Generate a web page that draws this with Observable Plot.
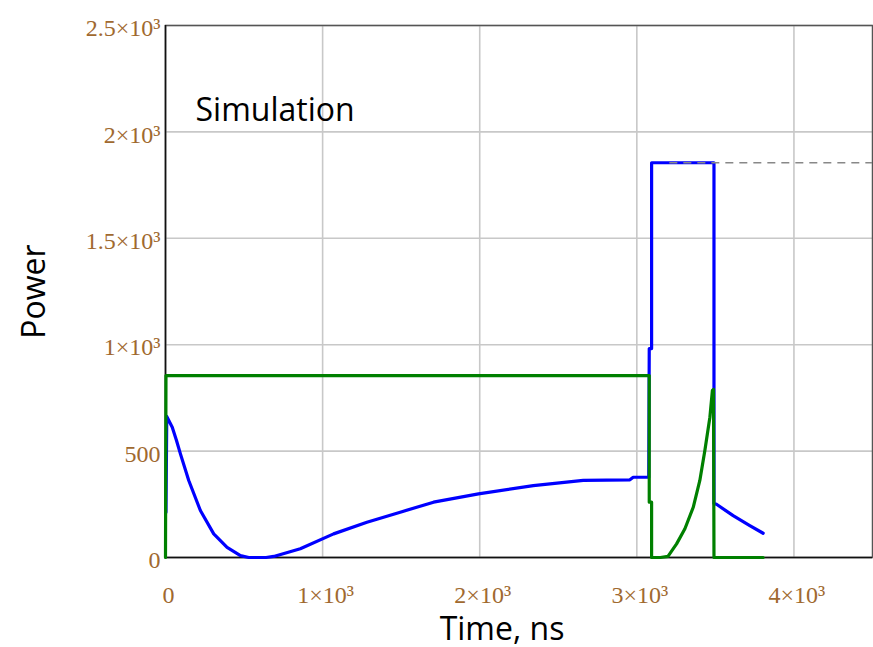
<!DOCTYPE html>
<html>
<head>
<meta charset="utf-8">
<script src="https://cdn.jsdelivr.net/npm/d3@7"></script>
<script src="https://cdn.jsdelivr.net/npm/@observablehq/plot@0.6"></script>
<style>
  html, body { margin: 0; padding: 0; background: #fff; }
  #chart { width: 873px; height: 647px; }
</style>
</head>
<body>
<div id="chart"></div>
<script>
// ---- data ----
const blueTime  = [3, 8, 43, 70, 95, 148, 222, 307, 392, 477, 530, 640, 689, 858, 1070, 1282, 1494, 1706, 1992, 2341, 2659, 2956, 2977, 3076, 3079, 3094, 3094, 3491, 3491, 3507, 3613, 3719, 3804];
const bluePower = [213, 663, 612, 550, 487, 362, 221, 111, 48, 9, 0, 0, 5, 41, 111, 166, 213, 260, 299, 338, 362, 365, 377, 377, 982, 982, 1855, 1855, 254, 250, 197, 150, 114];

const greenTime  = [0, 3, 3079, 3079, 3094, 3094, 3150, 3198, 3253, 3306, 3359, 3401, 3433, 3465, 3481, 3488, 3491, 3804];
const greenPower = [0, 855, 855, 260, 260, 0, 0, 5, 64, 135, 236, 362, 503, 659, 785, 790, 0, 0];

const markerLevel = [1855];
const markerStart = 3210;

const xTicks = [0, 1000, 2000, 3000, 4000];
const xTickLabels = ["0", "1×10³", "2×10³", "3×10³", "4×10³"];
const yTicks = [0, 500, 1000, 1500, 2000, 2500];
const yTickLabels = ["0", "500", "1×10³", "1.5×10³", "2×10³", "2.5×10³"];

const xLabel = "Time, ns";
const yLabel = "Power";
const annotation = "Simulation";

// ---- build tables ----
const blue = blueTime.map((t, i) => ({t, p: bluePower[i]}));
const green = greenTime.map((t, i) => ({t, p: greenPower[i]}));

const tickColor = "#a0692f";
const serif = "'Liberation Serif', 'Times New Roman', serif";
const sans = "'Open Sans', 'Noto Sans', sans-serif";

const chart = Plot.plot({
  width: 873,
  height: 647,
  marginLeft: 165,
  marginRight: 1,
  marginTop: 25,
  marginBottom: 90,
  style: {background: "white", overflow: "visible"},
  x: {domain: [0, 4500]},
  y: {domain: [0, 2500]},
  marks: [
    Plot.gridX(xTicks, {stroke: "#c8c8c8", strokeOpacity: 1, strokeWidth: 1.6}),
    Plot.gridY(yTicks, {stroke: "#c8c8c8", strokeOpacity: 1, strokeWidth: 1.6}),
    Plot.frame({stroke: "#555", strokeWidth: 1.5}),
    Plot.ruleX([0], {stroke: "#111", strokeWidth: 1.5}),
    Plot.ruleY([0], {stroke: "#111", strokeWidth: 1.5}),
    Plot.line(blue, {x: "t", y: "p", stroke: "#0000ff", strokeWidth: 3.2, strokeLinejoin: "round"}),
    Plot.line(green, {x: "t", y: "p", stroke: "#008000", strokeWidth: 3.2, strokeLinejoin: "round"}),
    Plot.ruleY(markerLevel, {x1: markerStart, x2: 4500, stroke: "#888", strokeWidth: 1.5, strokeDasharray: "8,6"}),
    Plot.axisX(xTicks, {
      tickSize: 0, tickPadding: 28, fontSize: 24, fontFamily: serif, fill: tickColor,
      tickFormat: (d) => xTickLabels[xTicks.indexOf(d)], label: null, dx: 3
    }),
    Plot.axisY(yTicks, {
      tickSize: 0, tickPadding: 5, fontSize: 24, fontFamily: serif, fill: tickColor,
      tickFormat: (d) => yTickLabels[yTicks.indexOf(d)], label: null, dy: 3
    }),
    Plot.text([annotation], {
      frameAnchor: "top-left", textAnchor: "start", dx: 30, dy: 73,
      fontSize: 32, fontFamily: sans, fill: "#000"
    }),
    Plot.text([xLabel], {
      frameAnchor: "bottom", textAnchor: "middle", lineAnchor: "bottom", dx: -17, dy: 82,
      fontSize: 32, fontFamily: sans, fill: "#000"
    }),
    Plot.text([yLabel], {
      frameAnchor: "left", textAnchor: "middle", lineAnchor: "bottom", dx: -121, rotate: -90,
      fontSize: 32, fontFamily: sans, fill: "#000"
    })
  ]
});
document.getElementById("chart").appendChild(chart);
</script>
</body>
</html>
